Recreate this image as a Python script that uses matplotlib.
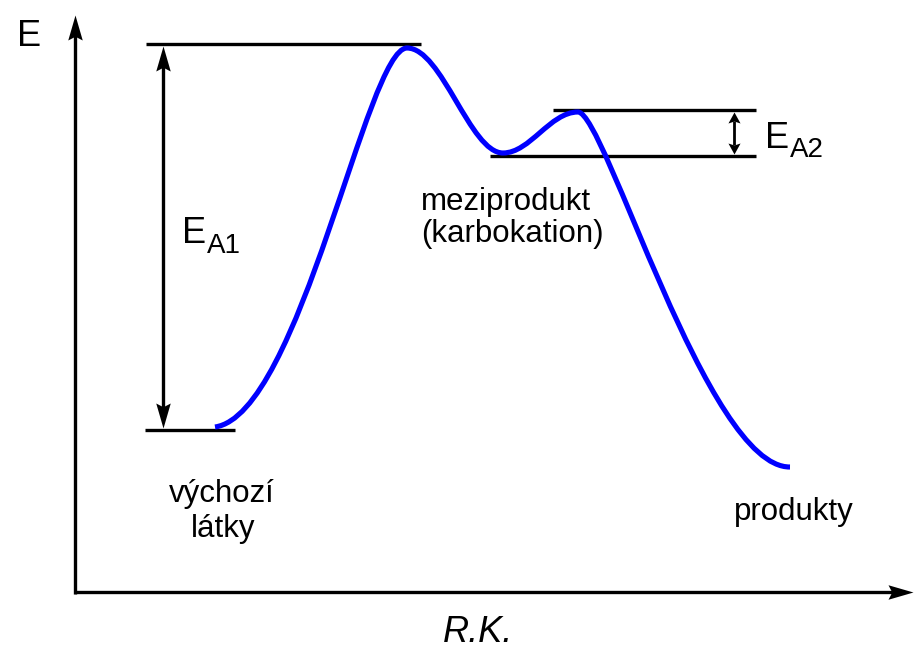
import matplotlib
matplotlib.use("Agg")
import matplotlib.pyplot as plt
from matplotlib.path import Path
from matplotlib.patches import PathPatch
from matplotlib.transforms import Affine2D

plt.rcParams['font.family'] = ['Liberation Sans', 'DejaVu Sans']

# ---------------- data (figure units: x to the right, E upward) ----------------
# energy levels: start, transition state 1, intermediate, transition state 2
level_names = ["start", "ts1", "inter", "ts2"]
level_E = [219, 605, 493, 539]
level_x0 = [145, 146, 490, 553]
level_x1 = [235, 421, 756, 756]

# reaction profile: cubic Bezier control points
curve_x = [215, 300, 367, 407, 442, 470, 503, 530, 550, 578, 605, 707, 790]
curve_E = [222, 234, 601, 601, 601, 496, 496, 496, 537, 537, 537, 181, 182]

# axes
axis_origin = (75, 57)
axis_y_tip = 634
axis_x_tip = 913

# activation-energy arrows: (x, lower level index, upper level index)
ea_arrows = [(163, 0, 1), (734, 2, 3)]

# labels
label_E = "E"
label_x = "R.K."
label_EA1 = ("E", "A1")
label_EA2 = ("E", "A2")
label_inter = ["meziprodukt", "(karbokation)"]
label_start = ["výchozí", "látky"]
label_prod = "produkty"

# ---------------- figure ----------------
W, H = 914, 649
fig = plt.figure(figsize=(W / 100, H / 100), dpi=100)
ax = fig.add_axes([0, 0, 1, 1])
ax.set_xlim(0, W)
ax.set_ylim(0, H)
ax.axis("off")

BLACK_LW = 2.4
BLUE_LW = 3.7


def head_marker(half_width, notch, angle):
    verts = [(0, 0), (-half_width, -1), (0, -notch), (half_width, -1), (0, 0)]
    codes = [Path.MOVETO, Path.LINETO, Path.LINETO, Path.LINETO, Path.CLOSEPOLY]
    p = Path(verts, codes)
    return p.transformed(Affine2D().rotate_deg(angle))


BIG = dict(hw=0.29, notch=0.85, length_px=25)
SMALL = dict(hw=0.55, notch=0.82, length_px=11)


def draw_head(x, y, angle, style):
    m = head_marker(style["hw"], style["notch"], angle)
    ms = style["length_px"] * 0.72 * 2  # marker path spans 0.5*ms points
    ax.plot([x], [y], linestyle="none", marker=m, markersize=ms,
            markerfacecolor="black", markeredgewidth=0, color="black", zorder=4)


# axes with arrowheads
ox, oy = axis_origin
back = BIG["length_px"] * 0.8
ax.plot([ox, ox], [oy - 1.5, axis_y_tip - back], color="black", lw=BLACK_LW,
        solid_capstyle="butt", zorder=3)
ax.plot([ox - 1.5, axis_x_tip - back], [oy, oy], color="black", lw=BLACK_LW,
        solid_capstyle="butt", zorder=3)
draw_head(ox, axis_y_tip, 0, BIG)
draw_head(axis_x_tip, oy, -90, BIG)

# energy level lines
for E, x0, x1 in zip(level_E, level_x0, level_x1):
    ax.plot([x0, x1], [E, E], color="black", lw=BLACK_LW, solid_capstyle="butt", zorder=3)

# reaction profile curve
codes = [Path.MOVETO] + [Path.CURVE4] * (len(curve_x) - 1)
profile = Path(list(zip(curve_x, curve_E)), codes)
ax.add_patch(PathPatch(profile, facecolor="none", edgecolor=(0, 0, 1),
                       lw=BLUE_LW, capstyle="butt", zorder=5))

# activation energy double arrows
for i, (x, lo, hi) in enumerate(ea_arrows):
    style = BIG if i == 0 else SMALL
    top = level_E[hi] - 2
    bot = level_E[lo] + 2
    b = style["length_px"] * 0.8
    ax.plot([x, x], [bot + b, top - b], color="black", lw=BLACK_LW if i == 0 else 2.0,
            solid_capstyle="butt", zorder=3)
    draw_head(x, top, 0, style)
    draw_head(x, bot, 180, style)

# ---------------- texts ----------------
BIGF = 26
SUBF = 20
LABF = 22.5

ax.text(17, 603, label_E, fontsize=BIGF, ha="left", va="baseline")
ax.text(478, 7, label_x, fontsize=BIGF, style="italic", ha="center", va="baseline")

ax.text(182, 406, label_EA1[0], fontsize=BIGF, ha="left", va="baseline")
ax.text(207, 396, label_EA1[1], fontsize=SUBF, ha="left", va="baseline")
ax.text(765, 501, label_EA2[0], fontsize=BIGF, ha="left", va="baseline")
ax.text(790, 492, label_EA2[1], fontsize=SUBF, ha="left", va="baseline")

ax.text(421, 439, label_inter[0], fontsize=LABF, ha="left", va="baseline")
ax.text(421, 407, label_inter[1], fontsize=LABF, ha="left", va="baseline")

ax.text(222, 147, label_start[0], fontsize=LABF, ha="center", va="baseline")
ax.text(223, 112, label_start[1], fontsize=LABF, ha="center", va="baseline")

ax.text(794, 129, label_prod, fontsize=LABF, ha="center", va="baseline")

fig.savefig("out.png", dpi=100, facecolor="white")
